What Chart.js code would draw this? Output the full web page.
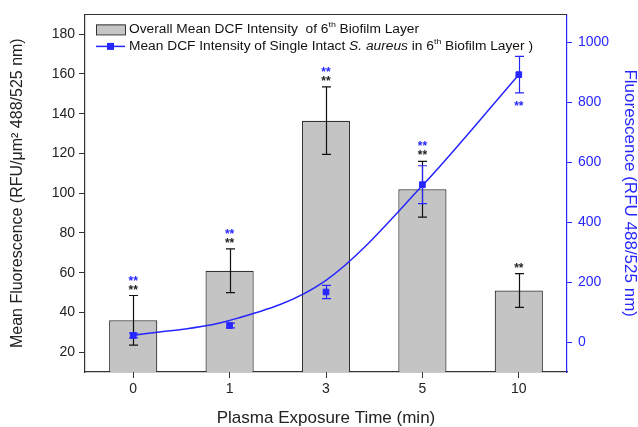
<!DOCTYPE html>
<html>
<head>
<meta charset="utf-8">
<script src="https://cdn.jsdelivr.net/npm/chart.js@4"></script>
<style>
  html, body { margin: 0; padding: 0; background: #ffffff; }
  #wrap { width: 638px; height: 427px; }
</style>
</head>
<body>
<div id="wrap"><canvas id="c" width="638" height="427"></canvas></div>
<script>
// ---- data ----
const categories = ['0', '1', '3', '5', '10'];
const overallMean = [36, 61, 136.5, 102, 51];          // left axis, bars
const overallErr  = [12.5, 11, 17, 14, 8.5];
const singleMean  = [22, 55, 167, 525, 892];           // right axis, squares
const singleErr   = [8, 8, 22, 63, 61];
const singleFit   = [22, 72, 206, 522, 892];           // fitted curve
const leftTicks   = [20, 40, 60, 80, 100, 120, 140, 160, 180];
const rightTicks  = [0, 200, 400, 600, 800, 1000];
const blackStars  = ['**', '**', '**', '**', '**'];
const blueStars   = ['**', '**', '**', '**', '**'];
const blueStarBelow = [false, false, false, false, true];

const BLUE = '#2626ff';
const FONT = '"Liberation Sans", Arial, sans-serif';

function errorBars(chart, dsIndex, means, errs, scaleId, color, cap) {
  const meta = chart.getDatasetMeta(dsIndex);
  const sc = chart.scales[scaleId];
  const ctx = chart.ctx;
  ctx.save();
  ctx.strokeStyle = color;
  ctx.lineWidth = 1.2;
  meta.data.forEach((el, i) => {
    const x = Math.round(el.x) + 0.5;
    const yt = sc.getPixelForValue(means[i] + errs[i]);
    const yb = sc.getPixelForValue(means[i] - errs[i]);
    ctx.beginPath();
    ctx.moveTo(x, yt); ctx.lineTo(x, yb);
    ctx.moveTo(x - cap, yt); ctx.lineTo(x + cap, yt);
    ctx.moveTo(x - cap, yb); ctx.lineTo(x + cap, yb);
    ctx.stroke();
  });
  ctx.restore();
}

const customPlugin = {
  id: 'custom',
  afterDatasetDraw(chart, args) {
    if (args.index === 0) errorBars(chart, 0, overallMean, overallErr, 'y', '#111', 4.5);
    if (args.index === 2) errorBars(chart, 2, singleMean, singleErr, 'y2', BLUE, 4.5);
  },
  afterDraw(chart) {
    const ctx = chart.ctx;
    const a = chart.chartArea;
    const y = chart.scales.y, y2 = chart.scales.y2;
    const meta = chart.getDatasetMeta(0);
    ctx.save();
    // top frame line
    ctx.strokeStyle = '#333';
    ctx.lineWidth = 1;
    ctx.beginPath();
    ctx.moveTo(a.left, Math.round(a.top) + 0.5);
    ctx.lineTo(a.right, Math.round(a.top) + 0.5);
    ctx.stroke();

    // significance stars
    ctx.font = 'bold 12px ' + FONT;
    ctx.textAlign = 'center';
    ctx.textBaseline = 'alphabetic';
    meta.data.forEach((el, i) => {
      const x = el.x;
      const topBar = y.getPixelForValue(overallMean[i] + overallErr[i]);
      ctx.fillStyle = '#222';
      ctx.fillText(blackStars[i], x, topBar - 2);
      ctx.fillStyle = BLUE;
      if (blueStarBelow[i]) {
        const bot = y2.getPixelForValue(singleMean[i] - singleErr[i]);
        ctx.fillText(blueStars[i], x, bot + 17);
      } else {
        ctx.fillText(blueStars[i], x, topBar - 11);
      }
    });

    // legend
    const lx = a.left + 11, tx = a.left + 44;
    const r1 = a.top + 15, r2 = a.top + 32;
    ctx.fillStyle = '#c6c6c6';
    ctx.fillRect(lx, r1 - 5, 29, 10);
    ctx.strokeStyle = '#333';
    ctx.lineWidth = 1;
    ctx.strokeRect(lx + 0.5, r1 - 5 + 0.5, 29, 10);
    ctx.strokeStyle = BLUE;
    ctx.lineWidth = 1.5;
    ctx.beginPath(); ctx.moveTo(lx, r2); ctx.lineTo(lx + 29, r2); ctx.stroke();
    ctx.fillStyle = BLUE;
    ctx.fillRect(lx + 11, r2 - 3.5, 7, 7);

    ctx.textAlign = 'left';
    ctx.textBaseline = 'middle';
    ctx.fillStyle = '#111';
    const sx = 1.1;
    function runs(parts, x, yy) {
      ctx.save();
      ctx.translate(x, 0);
      ctx.scale(sx, 1);
      let cx = 0;
      parts.forEach(p => {
        const sz = p.sup ? 8 : 12.5;
        ctx.font = (p.it ? 'italic ' : '') + sz + 'px ' + FONT;
        ctx.fillText(p.t, cx, p.sup ? yy - 5 : yy);
        cx += ctx.measureText(p.t).width;
      });
      ctx.restore();
    }
    runs([{t: 'Overall Mean DCF Intensity  of 6'}, {t: 'th', sup: true}, {t: ' Biofilm Layer'}], tx, r1);
    runs([{t: 'Mean DCF Intensity of Single Intact '}, {t: 'S. aureus', it: true}, {t: ' in 6'}, {t: 'th', sup: true}, {t: ' Biofilm Layer )'}], tx, r2);
    ctx.restore();
  }
};

new Chart(document.getElementById('c'), {
  type: 'bar',
  data: {
    labels: categories,
    datasets: [
      {
        label: 'Overall Mean DCF Intensity of 6th Biofilm Layer',
        data: overallMean,
        yAxisID: 'y',
        backgroundColor: '#c4c4c4',
        borderColor: '#333',
        borderWidth: 1.2,
        barPercentage: 0.5,
        categoryPercentage: 1.0,
        order: 3
      },
      {
        type: 'line',
        label: 'fit',
        data: singleFit,
        yAxisID: 'y2',
        borderColor: BLUE,
        borderWidth: 1.5,
        pointRadius: 0,
        cubicInterpolationMode: 'monotone',
        fill: false,
        order: 2
      },
      {
        type: 'line',
        label: 'Mean DCF Intensity of Single Intact S. aureus in 6th Biofilm Layer',
        data: singleMean,
        yAxisID: 'y2',
        showLine: false,
        pointStyle: 'rect',
        pointRadius: 4,
        backgroundColor: BLUE,
        borderColor: BLUE,
        order: 1
      }
    ]
  },
  options: {
    responsive: false,
    devicePixelRatio: 1,
    animation: false,
    layout: { padding: { top: 13, left: 0, right: 0, bottom: 0 } },
    plugins: { legend: { display: false }, tooltip: { enabled: false } },
    scales: {
      x: {
        offset: true,
        grid: { display: true, drawOnChartArea: false, offset: false, tickLength: 6, tickColor: '#333', tickWidth: 1 },
        border: { color: '#333', width: 1.2 },
        ticks: { color: '#222', font: { family: FONT, size: 14 }, padding: 3 },
        title: { display: true, text: 'Plasma Exposure Time (min)', color: '#222', font: { family: FONT, size: 17, lineHeight: 1 }, padding: { top: 0, bottom: 0 } },
        afterFit(s) { s.height = 55; }
      },
      y: {
        position: 'left',
        min: 10, max: 190,
        afterBuildTicks(s) { s.ticks = leftTicks.map(v => ({ value: v })); },
        grid: { drawOnChartArea: false, tickLength: 6, tickColor: '#333' },
        border: { color: '#333', width: 1.2 },
        ticks: { color: '#222', font: { family: FONT, size: 14 }, padding: 4, callback: v => String(v) },
        title: { display: true, text: 'Mean Fluorescence (RFU/\u03bcm\u00b2 488/525 nm)', color: '#222', font: { family: FONT, size: 16, lineHeight: 1 }, padding: { top: 10, bottom: 0 } },
        afterFit(s) { s.width = 85; }
      },
      y2: {
        position: 'right',
        min: -100, max: 1093,
        afterBuildTicks(s) { s.ticks = rightTicks.map(v => ({ value: v })); },
        grid: { drawOnChartArea: false, tickLength: 5, tickColor: BLUE },
        border: { color: BLUE, width: 1.2 },
        ticks: { color: BLUE, font: { family: FONT, size: 14 }, padding: 6, callback: v => String(v) },
        title: { display: true, text: 'Fluorescence (RFU 488/525 nm)', color: BLUE, font: { family: FONT, size: 17, lineHeight: 1 }, padding: { top: 0, bottom: 0 } },
        afterFit(s) { s.width = 71; }
      }
    }
  },
  plugins: [customPlugin]
});
</script>
</body>
</html>
